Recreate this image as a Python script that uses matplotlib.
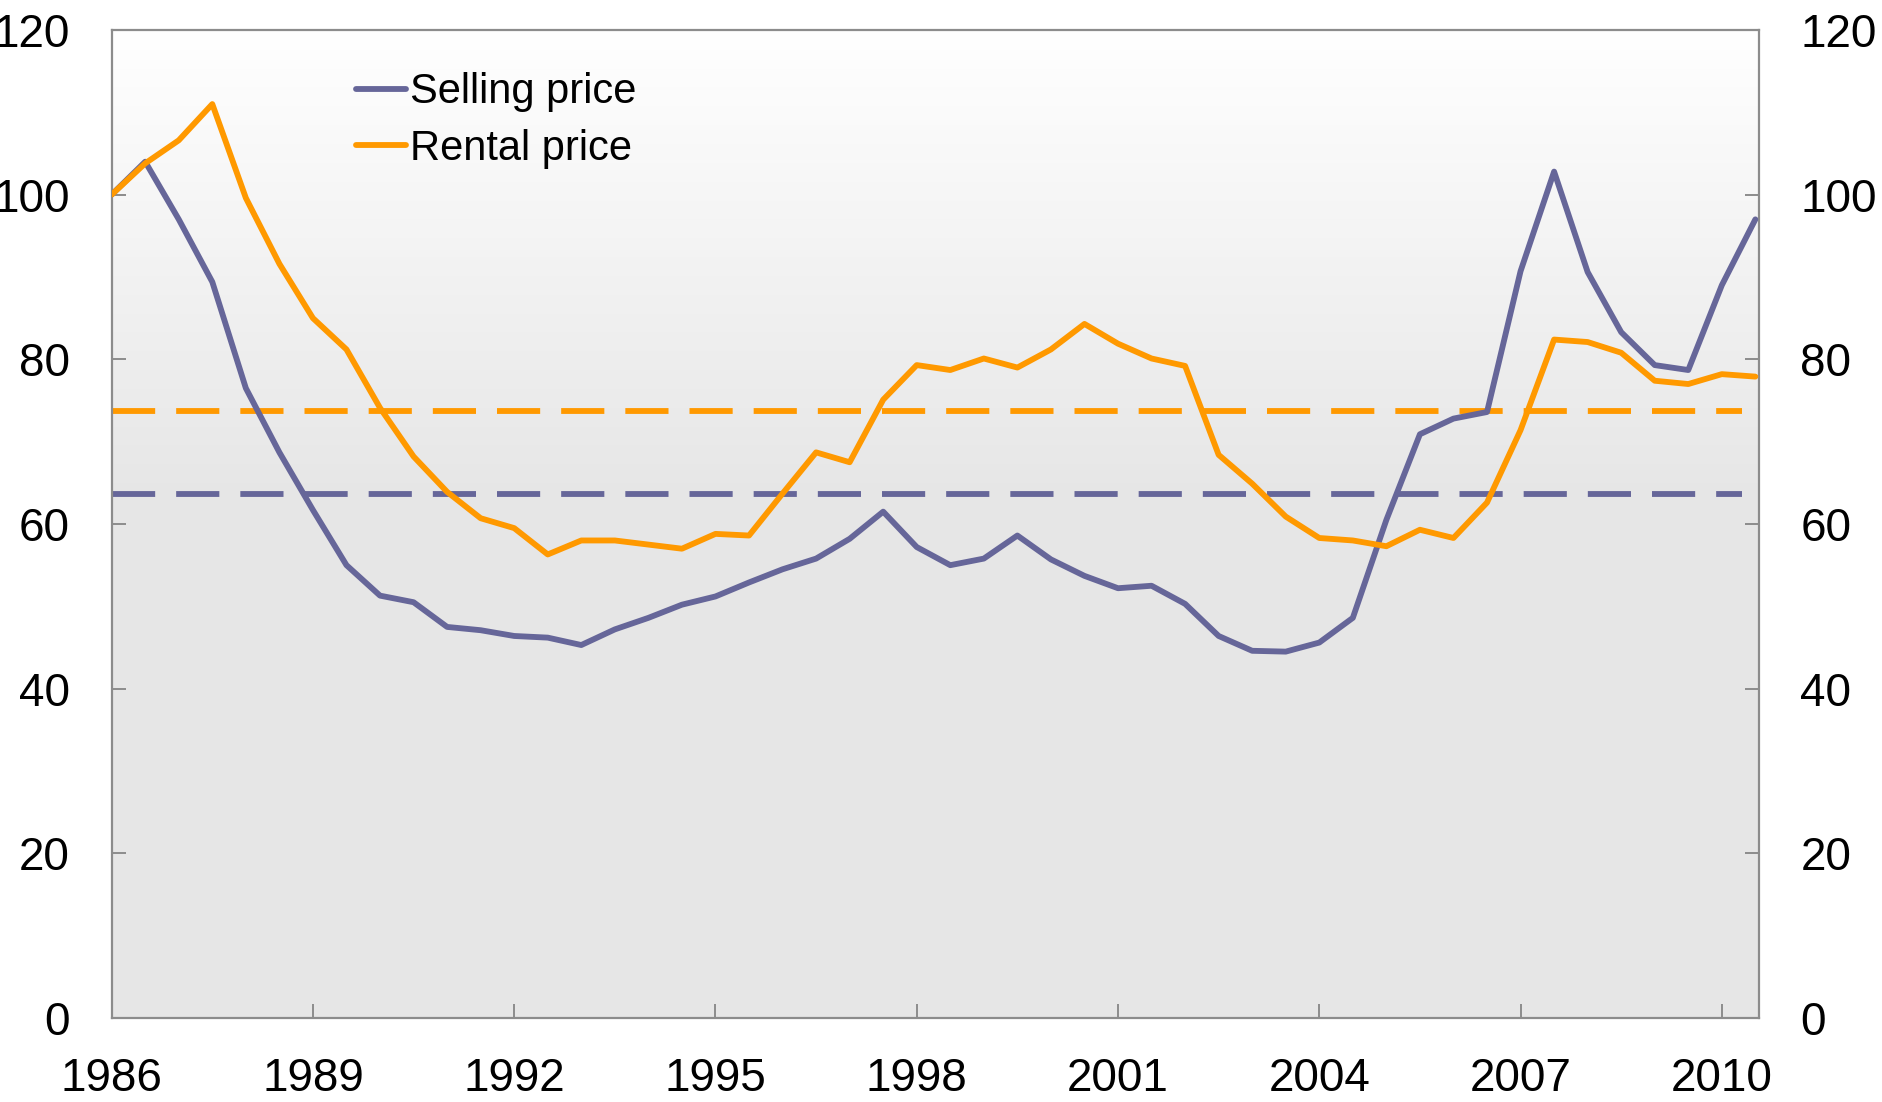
import numpy as np
import matplotlib
matplotlib.use("Agg")
import matplotlib.pyplot as plt

plt.rcParams["font.family"] = ["Liberation Sans", "DejaVu Sans"]

# half-yearly observations, 1986 to 2010 H2
years = np.arange(50) * 0.5 + 1986

selling_price = [
    100.0, 104.0, 97.0, 89.4, 76.5, 68.7, 61.7, 55.0, 51.3, 50.5,
    47.5, 47.1, 46.4, 46.2, 45.3, 47.2, 48.6, 50.2, 51.2, 52.9,
    54.5, 55.8, 58.2, 61.5, 57.2, 55.0, 55.8, 58.6, 55.7, 53.7,
    52.2, 52.5, 50.3, 46.4, 44.6, 44.5, 45.6, 48.6, 60.5, 70.9,
    72.8, 73.6, 90.7, 102.8, 90.6, 83.3, 79.3, 78.7, 89.0, 97.0,
]
rental_price = [
    100.0, 103.8, 106.6, 111.0, 99.6, 91.6, 85.0, 81.2, 74.1, 68.2,
    63.9, 60.7, 59.5, 56.3, 58.0, 58.0, 57.5, 57.0, 58.8, 58.6,
    63.7, 68.7, 67.5, 75.1, 79.3, 78.7, 80.1, 79.0, 81.2, 84.3,
    81.9, 80.1, 79.2, 68.4, 64.9, 60.9, 58.3, 58.0, 57.3, 59.3,
    58.3, 62.6, 71.4, 82.4, 82.1, 80.8, 77.4, 77.0, 78.2, 77.9,
]
selling_avg = 63.6
rental_avg = 73.7

series_labels = ["Selling price", "Rental price"]
x_ticks = [1986, 1989, 1992, 1995, 1998, 2001, 2004, 2007, 2010]
y_ticks = [0, 20, 40, 60, 80, 100, 120]

PURPLE = "#666699"
ORANGE = "#ff9900"
GREY = "#8c8c8c"
LW = 4.2

fig = plt.figure(figsize=(18.83, 11.02), dpi=100)
ax = fig.add_axes([0.0593, 0.0762, 0.8747, 0.8966])

# background: white at the top fading to light grey
grad = np.concatenate([np.linspace(1.0, 0.902, 120), np.full(130, 0.902)])
img = np.tile(grad[:, None], (1, 2))
ax.imshow(np.dstack([img, img, img]), extent=[0, 1, 0, 1], transform=ax.transAxes,
          aspect="auto", zorder=0, interpolation="bilinear", origin="upper")

# long-run averages
ax.axhline(rental_avg, xmax=0.99, color=ORANGE, lw=LW, dashes=(7.4, 3.6), zorder=2)
ax.axhline(selling_avg, xmax=0.99, color=PURPLE, lw=LW, dashes=(7.4, 3.6), zorder=2)
ax.plot(years, selling_price, color=PURPLE, lw=LW, label=series_labels[0],
        zorder=3, solid_capstyle="round")
ax.plot(years, rental_price, color=ORANGE, lw=LW, label=series_labels[1],
        zorder=4, solid_capstyle="round")

ax.set_xlim(1986, 2010.55)
ax.set_ylim(0, 120)
ax.set_xticks(x_ticks)
ax.set_yticks(y_ticks)

for s in ax.spines.values():
    s.set_color(GREY)
    s.set_linewidth(1.6)

ax.tick_params(axis="both", direction="in", length=10, width=1.4, color=GREY,
               labelsize=33)
ax.tick_params(axis="y", left=True, right=True, labelleft=True, labelright=True,
               pad=30)
ax.tick_params(axis="x", pad=28)

leg = ax.legend(loc="upper left", bbox_to_anchor=(0.138, 0.974), frameon=False,
                fontsize=30, handlelength=1.2, handletextpad=0.1,
                labelspacing=0.4, borderaxespad=0)

fig.savefig("out.png", dpi=100)
